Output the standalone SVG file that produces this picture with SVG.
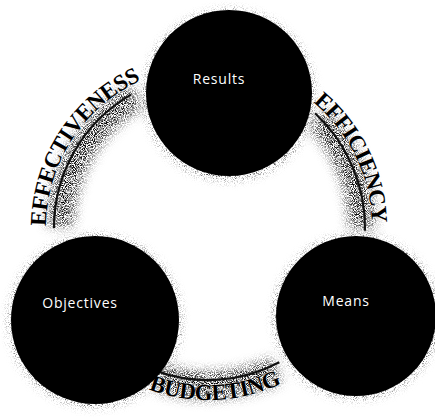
<svg xmlns="http://www.w3.org/2000/svg" width="435" height="417" viewBox="0 0 435 417">
<defs>
<style>
.node{fill:#000}
.lbl{fill:#fff;font-family:"Open Sans","DejaVu Sans",sans-serif;font-size:14px;letter-spacing:0.8px;text-anchor:middle}
.arc{fill:none;stroke:#111;stroke-width:2.2}
.band{font-family:"Liberation Serif","DejaVu Serif",serif;font-weight:bold;font-size:23px;fill:#000;stroke:#fff;stroke-width:0.5;paint-order:stroke;letter-spacing:-0.5px}
.halo{fill:#555}
.strip{fill:none;stroke:#555}
</style>
<filter id="grain" x="-40%" y="-40%" width="180%" height="180%">
<feGaussianBlur in="SourceAlpha" stdDeviation="5" result="b"/>
<feTurbulence type="fractalNoise" baseFrequency="1.1" numOctaves="1" seed="4" result="n"/>
<feColorMatrix in="n" type="matrix" values="0 0 0 0 0  0 0 0 0 0  0 0 0 0 0  4 0 0 0 -2.0" result="dots"/>
<feComposite in="dots" in2="b" operator="in"/>
</filter>
<filter id="grain2" x="-40%" y="-40%" width="180%" height="180%">
<feGaussianBlur in="SourceAlpha" stdDeviation="6" result="b"/>
<feTurbulence type="fractalNoise" baseFrequency="1.1" numOctaves="1" seed="7" result="n"/>
<feColorMatrix in="n" type="matrix" values="0 0 0 0 0  0 0 0 0 0  0 0 0 0 0  4 0 0 0 -1.6" result="dots"/>
<feComposite in="dots" in2="b" operator="in"/>
</filter>
<path id="pL" d="M 46.4 239.3 A 162 162 0 0 1 152.6 75.7"/>
<path id="pR" d="M 309 98.8 A 164 164 0 0 1 372 228"/>
<path id="pB" d="M 135.3 383.9 A 172 172 0 0 0 294 377"/>
</defs>
<rect width="435" height="417" fill="#fff"/>
<g id="texture">
<g filter="url(#grain)">
<circle cx="229" cy="95" r="85" class="halo"/>
<circle cx="95" cy="321" r="86" class="halo"/>
<circle cx="356" cy="317" r="82" class="halo"/>
</g>
<g filter="url(#grain2)">
<path class="strip" d="M 60 226 A 154 154 0 0 1 136 96" stroke-width="26"/>
<path class="strip" d="M 318 118 A 157 157 0 0 1 362 228" stroke-width="26"/>
<path class="strip" d="M 160 378 A 158 158 0 0 0 276 370" stroke-width="26"/>
</g>
</g>
<g id="connectors">
<path class="arc" d="M 54 228 A 154 154 0 0 1 131 94.6"/>
<path class="arc" d="M 315.1 113.2 A 157 157 0 0 1 365 230.7"/>
<path class="arc" d="M 156 370.9 A 152 152 0 0 0 279.3 362.2"/>
<text class="band"><textPath href="#pL" startOffset="50%" text-anchor="middle">EFFECTIVENESS</textPath></text>
<text class="band"><textPath href="#pR" startOffset="50%" text-anchor="middle">EFFICIENCY</textPath></text>
<text class="band"><textPath href="#pB" startOffset="50%" text-anchor="middle">BUDGETING</textPath></text>
</g>
<g id="results">
<circle class="node" cx="229" cy="93" r="83"/>
<text class="lbl" x="219" y="84">Results</text>
</g>
<g id="objectives">
<circle class="node" cx="95" cy="320" r="84"/>
<text class="lbl" x="80" y="308">Objectives</text>
</g>
<g id="means">
<circle class="node" cx="356" cy="316" r="80"/>
<text class="lbl" x="346" y="306">Means</text>
</g>
</svg>
